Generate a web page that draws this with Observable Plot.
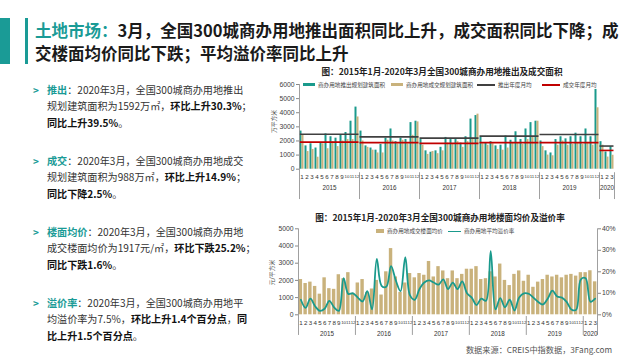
<!DOCTYPE html>
<html><head><meta charset="utf-8">
<script src="https://cdn.jsdelivr.net/npm/d3@7"></script>
<script src="https://cdn.jsdelivr.net/npm/@observablehq/plot@0.6"></script>
<style>
html,body{margin:0;padding:0;}
body{width:640px;height:360px;overflow:hidden;background:#fff;position:relative;font-family:"Noto Sans CJK SC","Noto Sans",sans-serif;color:#333;}
.abs{position:absolute;white-space:nowrap;}
.title{left:35px;top:19px;font-size:16.5px;font-weight:bold;line-height:23px;color:#1a1a1a;}
.title .hl{color:#1a9b96;}
.blk{left:33px;font-size:10.1px;line-height:16.7px;color:#333;}
.blk .bul{color:#1a9b96;display:inline-block;width:14px;font-size:10px;font-weight:bold;}
.blk .lab{color:#1a9b96;font-weight:bold;}
.blk b{color:#111;}
.blk .ind{padding-left:14px;}
.ctitle{font-size:8.6px;font-weight:bold;color:#222;transform:translateX(-50%);}
.leg{font-size:5.6px;color:#444;line-height:8px;}
.sw{position:absolute;}
.src{font-size:8.2px;color:#555;right:28px;top:343px;}
.ylab{font-size:5.8px;color:#444;transform:rotate(-90deg);transform-origin:center;}
</style></head><body>

<div class="abs" style="left:0;top:18px;width:10px;height:46px;background:#1a9b96"></div>
<div class="abs" style="left:25px;top:18px;width:3px;height:46px;background:#1a9b96"></div>
<div class="abs title"><span class="hl">土地市场：</span>3月，全国300城商办用地推出面积同比上升，成交面积同比下降；成<br>交楼面均价同比下跌；平均溢价率同比上升</div>

<div class="abs blk" style="top:81.7px"><span class="bul">&gt;</span><span class="lab">推出</span>：2020年3月，全国300城商办用地推出<br><div class="ind">规划建筑面积为1592万㎡，<b>环比上升30.3%</b>；</div><div class="ind"><b>同比上升39.5%</b>。</div></div>
<div class="abs blk" style="top:152.7px"><span class="bul">&gt;</span><span class="lab">成交</span>：2020年3月，全国300城商办用地成交<br><div class="ind">规划建筑面积为988万㎡，<b>环比上升14.9%</b>；</div><div class="ind"><b>同比下降2.5%</b>。</div></div>
<div class="abs blk" style="top:223.7px"><span class="bul">&gt;</span><span class="lab">楼面均价</span>：2020年3月，全国300城商办用地<br><div class="ind">成交楼面均价为1917元/㎡，<b>环比下跌25.2%</b>；</div><div class="ind"><b>同比下跌1.6%</b>。</div></div>
<div class="abs blk" style="top:294.7px"><span class="bul">&gt;</span><span class="lab">溢价率</span>：2020年3月，全国300城商办用地平<br><div class="ind">均溢价率为7.5%，<b>环比上升1.4个百分点</b>，<b>同</b></div><div class="ind"><b>比上升1.5个百分点</b>。</div></div>

<div class="abs ctitle" style="left:442px;top:65px">图：2015年1月-2020年3月全国300城商办用地推出及成交面积</div>
<div class="abs sw" style="left:303px;top:83px;width:12px;height:3px;background:#1a9a8c"></div>
<div class="abs leg" style="left:318px;top:80.5px">商办用地推出规划建筑面积</div>
<div class="abs sw" style="left:391px;top:83px;width:12px;height:3px;background:#c9b27c"></div>
<div class="abs leg" style="left:406px;top:80.5px">商办用地成交规划建筑面积</div>
<div class="abs sw" style="left:477px;top:84px;width:18px;height:1.5px;background:#404040"></div>
<div class="abs leg" style="left:498px;top:80.5px">推出年度月均</div>
<div class="abs sw" style="left:542px;top:84px;width:18px;height:1.5px;background:#c00000"></div>
<div class="abs leg" style="left:563px;top:80.5px">成交年度月均</div>
<div class="abs ylab" style="left:262px;top:117px">万平方米</div>
<div id="top" class="abs" style="left:250px;top:80px"></div>

<div class="abs ctitle" style="left:440px;top:211px">图：2015年1月-2020年3月全国300城商办用地楼面均价及溢价率</div>
<div class="abs sw" style="left:376px;top:229px;width:8px;height:4px;background:#c9b27c"></div>
<div class="abs leg" style="left:387px;top:227px">商办用地成交楼面均价</div>
<div class="abs sw" style="left:448px;top:230.5px;width:13px;height:1.6px;background:#1a9a8c"></div>
<div class="abs leg" style="left:464px;top:227px">商办用地平均溢价率</div>
<div class="abs ylab" style="left:259px;top:268px">元/平方米</div>
<div id="bottom" class="abs" style="left:250px;top:222px"></div>

<div class="abs src">数据来源：CREIS中指数据，3Fang.com</div>

<script>
const TEAL = "#1a9a8c", TAN = "#c9b27c";
const years = ["2015","2016","2017","2018","2019","2020"];
const monthsPerYear = [12,12,12,12,12,3];
// 商办用地推出规划建筑面积 (万㎡)
const supplyArea = [
  2700,1650,1800,1500,1850,2500,2300,2200,2400,2600,3400,4400,
  2700,1650,1500,1350,1750,2200,2850,1950,2200,2100,3300,3400,
  2100,1300,1200,1300,1550,2250,2100,2100,1850,2300,3550,3800,
  2250,1850,1950,1650,1700,2350,2050,2650,2100,2850,3300,3400,
  2000,1300,1150,2100,2300,2150,2300,2550,2300,2850,2300,5650,
  1950,1222,1592];
// 商办用地成交规划建筑面积 (万㎡)
const dealArea = [
  2400,1250,1400,850,1800,1450,1950,1600,2000,2100,2100,3700,
  2000,1550,1350,1150,1150,2050,2000,1800,2050,1800,2400,3350,
  1700,1050,1250,1100,1300,1850,1800,1950,1550,1950,2200,3900,
  1800,1700,1800,1400,1350,1500,1900,1850,1750,2100,2300,3400,
  1600,1000,950,1700,2000,1700,1750,1850,1750,1900,1700,4350,
  1700,860,988];
// 年度月均
const avgSupply = [2480,2290,2200,2340,2460,1640];
const avgDeal = [1920,1880,1830,1880,1880,1330];
// 商办用地成交楼面均价 (元/㎡)
const landPrice = [
  2050,1820,1900,1650,1200,2150,1520,1480,2330,2100,2450,1250,
  1850,2050,1300,1500,2000,1150,2500,3850,2200,1300,1850,2400,
  2150,2400,2300,3100,2200,2800,2550,2100,2550,2100,2350,2650,
  2650,2800,2050,2100,2500,2200,2950,2000,1700,2350,2550,1950,
  2300,1600,1900,2050,2300,2200,2300,2150,2300,2350,2250,2450,
  2450,2560,1917];
// 商办用地平均溢价率 (%)
const premiumRate = [
  7,3.2,7.5,4,1.8,2.8,6.5,3.5,1.8,17,9.7,10,
  8,6.2,11,2.5,26,13.5,13,22.6,16,11,26.8,9,
  7,12,15,16,15,14,16.5,12,15,12,15.5,10,
  8,4.5,7.5,6.5,29.6,2.5,7.8,3.5,7,2,8,10,
  9.8,8,6,4.8,7.5,11.2,8.5,8,6,2.5,2.3,16.5,
  17,6.1,7.5];
const areaTicks = [0,1000,2000,3000,4000,5000,6000];
const priceTicks = [0,1000,2000,3000,4000,5000];
const rateTicks = [0,10,20,30,40];

const rows = [];
const yearRows = [];
let idx = 0;
years.forEach((y, k) => {
  yearRows.push({year: y, start: idx, n: monthsPerYear[k], s: avgSupply[k], d: avgDeal[k]});
  for (let m = 1; m <= monthsPerYear[k]; m++) {
    rows.push({i: idx, year: y, month: m, supply: supplyArea[idx], deal: dealArea[idx], price: landPrice[idx], rate: premiumRate[idx]});
    idx++;
  }
});
const total = idx;
const inner = yearRows.slice(1).map(d => d.start);
const axisFont = "'Liberation Sans', Arial, sans-serif";
const oneDigit = rows.filter(d => d.month < 10);
const twoDigit = rows.filter(d => d.month >= 10);

function monthMarks(dy) {
  return [
    Plot.text(oneDigit, {x: d => d.i + 0.5, y: 0, dy, text: d => String(d.month), fontSize: 6.2, fill: "#333"}),
    Plot.text(twoDigit, {x: d => d.i + 0.5, y: 0, dy, text: d => String(d.month), fontSize: 4.4, letterSpacing: -0.3, fill: "#333"})
  ];
}

const topChart = Plot.plot({
  width: 380, height: 122, marginTop: 4, marginBottom: 33.3, marginLeft: 49, marginRight: 16,
  x: {domain: [0, total], axis: null},
  y: {domain: [0, 6000], axis: null},
  style: {background: "transparent", fontFamily: axisFont, color: "#404040", overflow: "visible"},
  marks: [
    Plot.rectY(rows, {x1: d => d.i + 0.1, x2: d => d.i + 0.5, y1: 0, y2: "supply", fill: TEAL}),
    Plot.rectY(rows, {x1: d => d.i + 0.5, x2: d => d.i + 0.9, y1: 0, y2: "deal", fill: TAN}),
    Plot.ruleY(yearRows, {x1: d => d.start + 0.1, x2: d => d.start + d.n - 0.1, y: "s", stroke: "#404040", strokeWidth: 1.6}),
    Plot.ruleY(yearRows, {x1: d => d.start + 0.1, x2: d => d.start + d.n - 0.1, y: "d", stroke: "#c00000", strokeWidth: 1.6}),
    Plot.axisY({ticks: areaTicks, tickSize: 3, tickPadding: 2, tickFormat: d => String(d), label: null, fontSize: 6.8, stroke: "#888"}),
    Plot.ruleX([0], {y1: 6000, y2: -2150, stroke: "#888", strokeWidth: 0.8}),
    Plot.ruleX(inner.concat([total]), {y1: -250, y2: -2150, stroke: "#888", strokeWidth: 0.8}),
    ...monthMarks(7.5),
    Plot.text(yearRows, {x: d => d.start + d.n / 2, y: 0, dy: 18.5, text: "year", fontSize: 6.3, fill: "#333"})
  ]
});
document.getElementById("top").append(topChart);

const bottomChart = Plot.plot({
  width: 380, height: 125, marginTop: 6.3, marginBottom: 32.7, marginLeft: 48, marginRight: 33,
  x: {domain: [0, total], axis: null},
  y: {domain: [0, 5000], axis: null},
  style: {background: "transparent", fontFamily: axisFont, color: "#404040", overflow: "visible"},
  marks: [
    Plot.rectY(rows, {x1: d => d.i + 0.14, x2: d => d.i + 0.86, y1: 0, y2: "price", fill: TAN}),
    Plot.line(rows, {x: d => d.i + 0.5, y: d => d.rate * 125, stroke: TEAL, strokeWidth: 1.8, curve: "catmull-rom"}),
    Plot.axisY({anchor: "left", ticks: priceTicks, tickSize: 3, tickPadding: 2, tickFormat: d => String(d), label: null, fontSize: 6.8, stroke: "#888"}),
    Plot.axisY({anchor: "right", ticks: rateTicks.map(t => t * 125), tickSize: 3, tickPadding: 1.5, tickFormat: d => (d / 125) + "%", label: null, fontSize: 6.8, stroke: "#888"}),
    Plot.ruleX([0, total], {y1: 5000, y2: -1200, stroke: "#888", strokeWidth: 0.8}),
    Plot.ruleX(inner, {y1: -100, y2: -1200, stroke: "#888", strokeWidth: 0.8}),
    ...monthMarks(8),
    Plot.text(yearRows, {x: d => d.start + d.n / 2, y: 0, dy: 19, text: "year", fontSize: 6.3, fill: "#333"})
  ]
});
document.getElementById("bottom").append(bottomChart);
</script>
</body></html>
